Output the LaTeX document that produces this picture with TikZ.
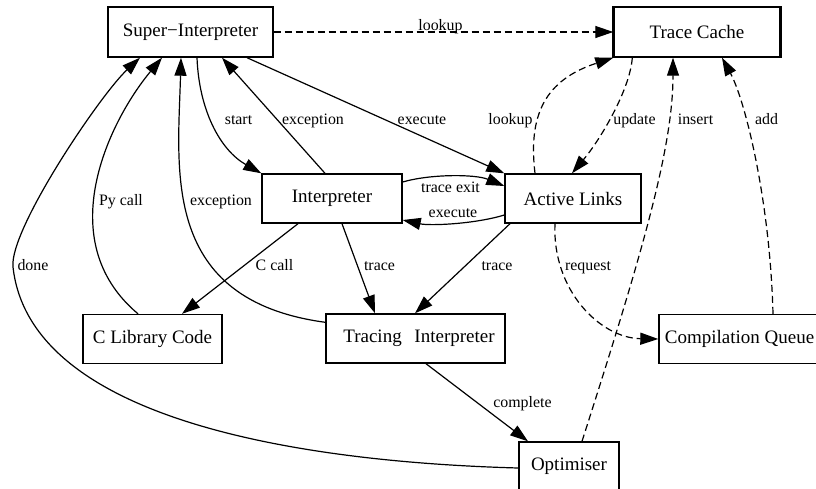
\documentclass[tikz,border=0pt]{standalone}
\usepackage{fontspec}
\setmainfont{Liberation Serif}
\usetikzlibrary{arrows.meta}
\begin{document}
\begin{tikzpicture}[x=1pt,y=-1pt,
  box/.style={draw, line width=1.4pt, inner sep=0pt, minimum height=49pt,
    font=\fontsize{19}{22}\selectfont},
  lbl/.style={anchor=base, inner sep=0pt, font=\fontsize{15.9}{18}\selectfont},
  edge/.style={line width=1.2pt, -{Triangle[length=18pt,width=12pt]}},
  dedge/.style={edge, dash pattern=on 7pt off 4pt}]
\useasboundingbox (0,0) rectangle (816,488);
\fill[white] (0,0) rectangle (816,488);

% components
\node[box, minimum width=165pt, minimum height=50pt] (si) at (190.5,32) {Super−Interpreter};
\node[box, minimum width=166pt, minimum height=50pt] (tc) at (697,32) {Trace Cache};
\node[box, minimum width=140pt] (interp) at (332,198.5) {Interpreter};
\node[box, minimum width=136pt] (al) at (573,198.5) {Active Links};
\node[box, minimum width=139pt] (clib) at (152.5,339) {C Library Code};
\node[box, minimum width=179pt] (ti) at (415.5,338.5) {\hspace*{7pt}Tracing\hspace{0.67em}Interpreter};
\node[box, minimum width=161pt] (cq) at (739.5,339) {Compilation Queue};
\node[box, minimum width=100pt] (opt) at (569,466.5) {Optimiser};
\draw[line width=2.4pt] (tc.north west) -- (tc.south west);
\draw[line width=2.4pt] (tc.north east) -- (tc.south east);

% control flow
\draw[dedge] (si.east) -- (tc.west);
\draw[edge] ([xshift=6.5pt]si.south) .. controls (199,110) and (220,150) .. (interp.north west);
\draw[edge] ([xshift=-7pt]interp.north) -- ([xshift=31.5pt]si.south);
\draw[edge] ([xshift=56.5pt]si.south) -- (al.north west);
\draw[edge] ([yshift=16.5pt]interp.east) .. controls (430,174) and (475,174) .. ([yshift=12.5pt]al.west);
\draw[edge] ([yshift=-16.5pt]al.west) .. controls (475,224) and (430,226) .. ([yshift=-21.5pt]interp.east);
\draw[dedge] ([xshift=-38pt]al.north) .. controls (528,115) and (545,80) .. (tc.south west);
\draw[dedge] ([xshift=19pt]tc.south west) .. controls (630,90) and (600,140) .. ([xshift=-1pt]al.north);
\draw[dedge] ([xshift=13pt]opt.north) .. controls (640,260) and (673,150) .. ([xshift=-24pt]tc.south);
\draw[dedge] ([xshift=33.5pt]cq.north) .. controls (770,200) and (745,100) .. ([xshift=25pt]tc.south);
\draw[dedge] ([xshift=-18pt]al.south) .. controls (552,290) and (600,338) .. (cq.west);
\draw[edge] ([xshift=-34pt]interp.south) -- ([xshift=29.5pt]clib.north);
\draw[edge] ([xshift=10pt]interp.south) -- ([xshift=-40.5pt]ti.north);
\draw[edge] ([xshift=-63pt]al.south) -- ([xshift=-0.5pt]ti.north);
\draw[edge] ([xshift=10.5pt]ti.south) -- ([xshift=-41pt]opt.north);
\draw[edge] ([xshift=-14.5pt]clib.north) .. controls (50,240) and (110,120) .. ([xshift=-28.5pt]si.south);
\draw[edge] ([yshift=-9pt]ti.north west) .. controls (160,300) and (178,170) .. ([xshift=-9.5pt]si.south);
\draw[edge] ([yshift=-1.5pt]opt.west) .. controls (300,462) and (30,420) .. (13,267)
  .. controls (9,230) and (100,95) .. ([xshift=-50.5pt]si.south);

% edge labels
\node[lbl] (lLookupTop) at (440.5,30) {lookup};
\node[lbl] (lStart) at (238.5,124) {start};
\node[lbl] (lExcTop) at (313,124) {exception};
\node[lbl] (lExecTop) at (422,124) {execute};
\node[lbl] (lLookup) at (510.5,124) {lookup};
\node[lbl] (lUpdate) at (634.5,124) {update};
\node[lbl] (lInsert) at (695.5,124) {insert};
\node[lbl] (lAdd) at (766.5,124) {add};
\node[lbl] (lTraceExit) at (450.5,192) {trace exit};
\node[lbl] (lExecLow) at (453,217) {execute};
\node[lbl] (lPyCall) at (121,205) {Py call};
\node[lbl] (lExcLeft) at (221,205) {exception};
\node[lbl] (lDone) at (33,270) {done};
\node[lbl] (lCCall) at (274.5,270) {C call};
\node[lbl] (lTraceA) at (379.5,270) {trace};
\node[lbl] (lTraceB) at (497,270) {trace};
\node[lbl] (lRequest) at (588,270) {request};
\node[lbl] (lComplete) at (522.5,407) {complete};
\end{tikzpicture}
\end{document}
